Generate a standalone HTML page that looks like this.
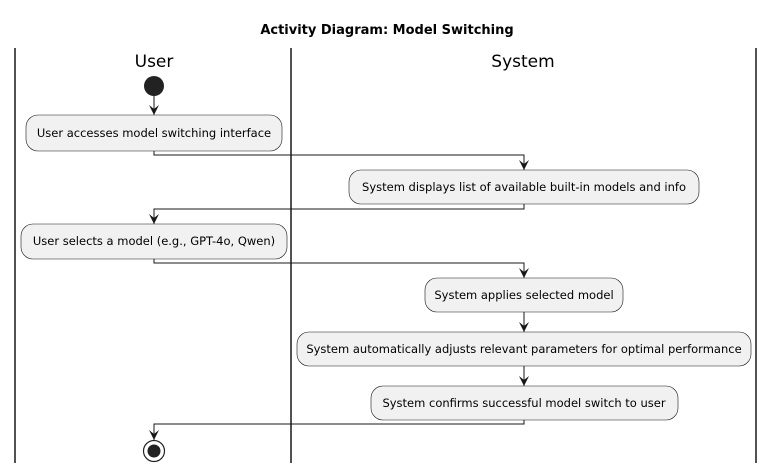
<!DOCTYPE html>
<html><head><meta charset="utf-8"><style>
html,body{margin:0;padding:0;background:#fff;}
svg{display:block;}
text{font-family:"DejaVu Sans","Liberation Sans",sans-serif;fill:#000;}
</style></head><body>
<svg width="774" height="473" viewBox="0 0 774 473" xmlns="http://www.w3.org/2000/svg">
<defs>
<marker id="a" viewBox="0 0 10 10" refX="10" refY="5" markerWidth="10" markerHeight="10" markerUnits="userSpaceOnUse" orient="auto">
<path d="M0,0 L10,5 L0,10 L4,5 Z" fill="#181818"/>
</marker>
</defs>
<text x="387" y="34" text-anchor="middle" font-size="13" font-weight="bold">Activity Diagram: Model Switching</text>
<g stroke="#181818" stroke-width="1.5">
<line x1="15" y1="48" x2="15" y2="463"/>
<line x1="291" y1="48" x2="291" y2="463"/>
<line x1="756" y1="48" x2="756" y2="463"/>
</g>
<text x="154" y="67" text-anchor="middle" font-size="17">User</text>
<text x="523" y="67" text-anchor="middle" font-size="17">System</text>
<circle cx="154" cy="86" r="10" fill="#222"/>
<g stroke="#181818" stroke-width="1" fill="none">
<line x1="154" y1="96" x2="154" y2="115" marker-end="url(#a)"/>
<polyline points="154,151 154,155 524,155 524,170" marker-end="url(#a)"/>
<polyline points="524,204 524,209 154,209 154,224" marker-end="url(#a)"/>
<polyline points="154,259 154,263 524,263 524,278" marker-end="url(#a)"/>
<line x1="524" y1="312" x2="524" y2="332" marker-end="url(#a)"/>
<line x1="524" y1="366" x2="524" y2="386" marker-end="url(#a)"/>
<polyline points="524,420 524,424 154,424 154,440" marker-end="url(#a)"/>
</g>
<g fill="#f1f1f1" stroke="#181818" stroke-width="0.6">
<rect x="26" y="115" width="256" height="36" rx="12"/>
<rect x="349" y="170" width="350" height="34" rx="12"/>
<rect x="21" y="224" width="266" height="35" rx="12"/>
<rect x="425" y="278" width="198" height="34" rx="12"/>
<rect x="297" y="332" width="454" height="34" rx="12"/>
<rect x="371" y="386" width="307" height="34" rx="12"/>
</g>
<g font-size="11.5" text-anchor="middle">
<text x="154" y="137">User accesses model switching interface</text>
<text x="524" y="191">System displays list of available built-in models and info</text>
<text x="154" y="245">User selects a model (e.g., GPT-4o, Qwen)</text>
<text x="524" y="299">System applies selected model</text>
<text x="524" y="353">System automatically adjusts relevant parameters for optimal performance</text>
<text x="524" y="407">System confirms successful model switch to user</text>
</g>
<circle cx="154" cy="451" r="10.5" fill="#fff" stroke="#222" stroke-width="1.2"/>
<circle cx="154" cy="451" r="6.5" fill="#222"/>
</svg>
</body></html>
